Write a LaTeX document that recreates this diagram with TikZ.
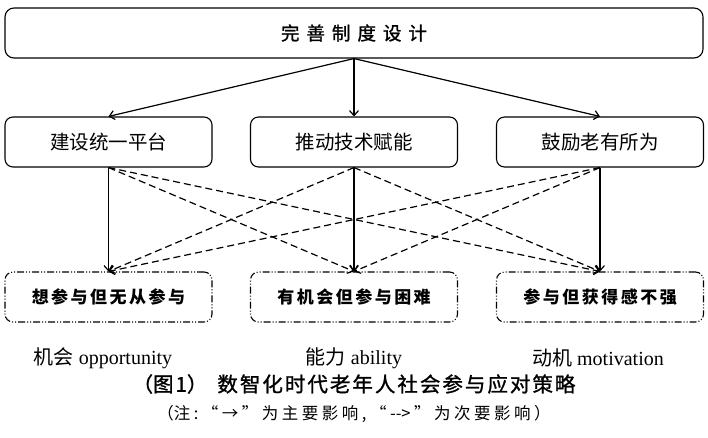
\documentclass[tikz,border=0pt]{standalone}
\usepackage{fontspec}
\setmainfont{Liberation Serif}
\newfontfamily\cjk{Noto Sans CJK SC}
\newfontfamily\cjkm[FakeBold=1.2]{Noto Sans CJK SC}
\usetikzlibrary{arrows.meta}
\tikzset{
  topbox/.style={draw, line width=1.1pt, rounded corners=9pt, minimum width=698pt, minimum height=50pt, inner sep=0pt},
  midbox/.style={draw, line width=1.1pt, rounded corners=8pt, minimum width=207pt, minimum height=50pt, inner sep=0pt, font=\cjk\fontsize{19.5}{19.5}\selectfont},
  botbox/.style={draw, line width=1.1pt, rounded corners=8pt, minimum width=207pt, minimum height=50pt, inner sep=0pt,
     dash pattern=on 7pt off 2pt on 1pt off 2pt on 1pt off 2pt, font=\cjk\bfseries\fontsize{17}{17}\selectfont},
  mainarr/.style={line width=1.2pt, -{Straight Barb[length=5pt,width=9pt]}},
  secarr/.style={line width=1.2pt, dash pattern=on 7pt off 4pt, -{Straight Barb[length=5pt,width=9pt]}},
  lbl/.style={font=\fontsize{20}{20}\selectfont},
}
\newcommand{\gsp}{\hspace{7pt}}
\newcommand{\bsp}{\hspace{2.5pt}}
\newcommand{\tsp}{\hspace{2pt}}
\newcommand{\nsp}{\hspace{3.5pt}}
\begin{document}
\begin{tikzpicture}[x=1pt,y=-1pt]
\useasboundingbox (0,0) rectangle (708,437);
\node[topbox] (top) at (354,33) {\cjkm\fontsize{18.5}{18.5}\selectfont 完\gsp 善\gsp 制\gsp 度\gsp 设\gsp 计};
\node[midbox] (a) at (108.5,142) {建设统一平台};
\node[midbox] (b) at (354,142) {推动技术赋能};
\node[midbox] (c) at (600,142) {鼓励老有所为};
\node[botbox] (x) at (108.5,297) {想\bsp 参\bsp 与\bsp 但\bsp 无\bsp 从\bsp 参\bsp 与};
\node[botbox] (y) at (354,297) {有\bsp 机\bsp 会\bsp 但\bsp 参\bsp 与\bsp 困\bsp 难};
\node[botbox] (z) at (600,297) {参\bsp 与\bsp 但\bsp 获\bsp 得\bsp 感\bsp 不\bsp 强};
% main arrows from top
\draw[mainarr] (top.south) -- (a.north);
\draw[mainarr] (top.south) -- (b.north);
\draw[mainarr] (top.south) -- (c.north);
% main vertical arrows
\draw[mainarr] (a.south) -- (x.north);
\draw[mainarr] (b.south) -- (y.north);
\draw[mainarr] (c.south) -- (z.north);
% secondary arrows
\draw[secarr] (a.south) -- (y.north);
\draw[secarr] (a.south) -- (z.north);
\draw[secarr] (b.south) -- (x.north);
\draw[secarr] (b.south) -- (z.north);
\draw[secarr] (c.south) -- (x.north);
\draw[secarr] (c.south) -- (y.north);
% labels
\node[lbl] (l1) at (103,358) {{\cjk 机会} opportunity};
\node[lbl] (l2) at (354,358) {{\cjk 能力} ability};
\node[lbl] (l3) at (598,358) {{\cjk 动机} motivation};
\node[font=\cjkm\fontsize{20.5}{20.5}\selectfont] (t) at (354,384) {（图\tsp 1）\hspace{10pt}数\tsp 智\tsp 化\tsp 时\tsp 代\tsp 老\tsp 年\tsp 人\tsp 社\tsp 会\tsp 参\tsp 与\tsp 应\tsp 对\tsp 策\tsp 略};
\node[font=\cjk\fontsize{16.5}{16.5}\selectfont] (n) at (354,414) {（注\nsp :\nsp “\nsp →\nsp ”\nsp 为\nsp 主\nsp 要\nsp 影\nsp 响\nsp ,\nsp “\nsp -->\nsp ”\nsp 为\nsp 次\nsp 要\nsp 影\nsp 响\nsp ）};
\end{tikzpicture}
\end{document}
